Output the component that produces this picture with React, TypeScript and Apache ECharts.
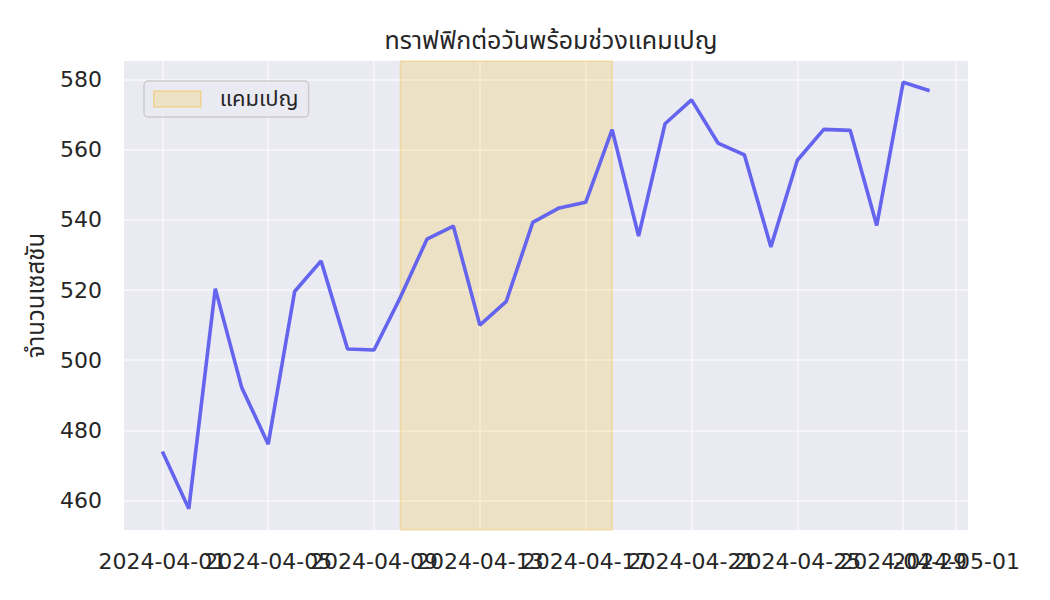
import React, { useEffect, useRef } from "react";
import * as echarts from "echarts";

const dates = [
  "2024-04-01", "2024-04-02", "2024-04-03", "2024-04-04", "2024-04-05",
  "2024-04-06", "2024-04-07", "2024-04-08", "2024-04-09", "2024-04-10",
  "2024-04-11", "2024-04-12", "2024-04-13", "2024-04-14", "2024-04-15",
  "2024-04-16", "2024-04-17", "2024-04-18", "2024-04-19", "2024-04-20",
  "2024-04-21", "2024-04-22", "2024-04-23", "2024-04-24", "2024-04-25",
  "2024-04-26", "2024-04-27", "2024-04-28", "2024-04-29", "2024-04-30",
];
const sessions = [
  474.0, 457.7, 520.4, 492.2, 476.1, 519.6, 528.3, 503.2, 502.9, 518.0,
  534.5, 538.2, 510.0, 516.8, 539.3, 543.4, 545.0, 565.7, 535.4, 567.4,
  574.2, 561.9, 558.5, 532.3, 557.0, 565.8, 565.5, 538.4, 579.2, 576.8,
];
const xTickLabels = [
  "2024-04-01", "2024-04-05", "2024-04-09", "2024-04-13", "2024-04-17",
  "2024-04-21", "2024-04-25", "2024-04-29", "2024-05-01",
];
const yTickValues = [460, 480, 500, 520, 540, 560, 580];
const campaignRange = ["2024-04-10", "2024-04-18"];

const TITLE = "ทราฟฟิกต่อวันพร้อมช่วงแคมเปญ";
const Y_NAME = "จำนวนเซสชัน";
const CAMPAIGN_NAME = "แคมเปญ";

const toTs = (s: string) => {
  const [y, m, d] = s.split("-").map(Number);
  return Date.UTC(y, m - 1, d);
};
const pad2 = (n: number) => (n < 10 ? "0" + n : "" + n);
const fmt = (v: number) => {
  const d = new Date(v);
  return `${d.getUTCFullYear()}-${pad2(d.getUTCMonth() + 1)}-${pad2(d.getUTCDate())}`;
};

const FONT = "'DejaVu Sans', 'Noto Sans Thai', 'Noto Sans', sans-serif";
const THAI_FONT = "'Noto Sans Thai', 'Noto Sans Thai UI', 'Noto Sans', 'DejaVu Sans', sans-serif";
const TEXT = "#262626";
const CAMPAIGN_FILL = "rgba(249,189,22,0.2)";
const CAMPAIGN_EDGE = "rgba(240,185,40,0.3)";

export default function App() {
  const ref = useRef<HTMLDivElement>(null);

  useEffect(() => {
    document.body.style.margin = "0";
    if (!ref.current) return;
    const chart = echarts.init(ref.current, undefined, { renderer: "svg" });

    const ts = dates.map(toTs);
    const x0 = ts[0];
    const x1 = ts[ts.length - 1];
    const xPad = (x1 - x0) * 0.05;
    const yMinD = Math.min(...sessions);
    const yMaxD = Math.max(...sessions);
    const yPad = (yMaxD - yMinD) * 0.05;
    const xTicks = xTickLabels.map(toTs);
    // two interleaved label sets so that overlapping labels are all kept
    const xTicksA = xTicks.filter((_, i) => i % 2 === 0);
    const xTicksB = xTicks.filter((_, i) => i % 2 === 1);

    const labelStyle = {
      interval: 0,
      formatter: (v: number) => fmt(v),
      fontFamily: FONT,
      fontSize: 22,
      color: TEXT,
      margin: 20,
      hideOverlap: false,
    };

    chart.setOption({
      animation: false,
      backgroundColor: "#ffffff",
      title: {
        text: TITLE,
        left: 546,
        top: 23,
        textAlign: "center",
        textStyle: {
          fontFamily: THAI_FONT,
          fontSize: 25,
          fontWeight: "normal",
          color: TEXT,
        },
      },
      legend: {
        left: 144,
        top: 81,
        data: [
          {
            name: CAMPAIGN_NAME,
            icon: "rect",
            itemStyle: { color: CAMPAIGN_FILL, borderColor: "rgba(240,190,60,0.45)", borderWidth: 1.5 },
          },
        ],
        itemWidth: 47,
        itemHeight: 16,
        padding: [7, 10, 7, 9],
        backgroundColor: "rgba(234,234,242,0.8)",
        borderColor: "#cccccc",
        borderWidth: 1.5,
        borderRadius: 4,
        textStyle: {
          fontFamily: THAI_FONT,
          fontSize: 22,
          color: TEXT,
          padding: [0, 0, 0, 14],
        },
      },
      grid: {
        left: 124,
        right: 82,
        top: 61,
        bottom: 70,
        show: true,
        backgroundColor: "#EAEAF2",
        borderWidth: 0,
      },
      xAxis: [
        {
          type: "value",
          position: "bottom",
          offset: 0,
          min: x0 - xPad,
          max: x1 + xPad,
          axisLine: { show: false },
          axisTick: { show: false, customValues: xTicks },
          axisLabel: { ...labelStyle, customValues: xTicksA },
          splitLine: {
            show: true,
            lineStyle: { color: "rgba(255,255,255,0.7)", width: 1.5 },
          },
        },
        {
          type: "value",
          position: "bottom",
          offset: 0,
          min: x0 - xPad,
          max: x1 + xPad,
          axisLine: { show: false },
          axisTick: { show: false, customValues: xTicksB },
          axisLabel: { ...labelStyle, customValues: xTicksB },
          splitLine: { show: false },
        },
      ],
      yAxis: {
        type: "value",
        min: yMinD - yPad,
        max: yMaxD + yPad,
        name: Y_NAME,
        nameLocation: "middle",
        nameRotate: 90,
        nameGap: 73,
        nameTextStyle: {
          fontFamily: THAI_FONT,
          fontSize: 24,
          color: TEXT,
        },
        axisLine: { show: false },
        axisTick: { show: false, customValues: yTickValues },
        axisLabel: {
          customValues: yTickValues,
          fontFamily: FONT,
          fontSize: 22,
          color: TEXT,
          margin: 22,
        },
        splitLine: {
          show: true,
          lineStyle: { color: "rgba(255,255,255,0.7)", width: 1.5 },
        },
      },
      series: [
        {
          name: CAMPAIGN_NAME,
          type: "bar",
          xAxisIndex: 0,
          data: [],
          itemStyle: { color: CAMPAIGN_FILL },
        },
        {
          name: "sessions",
          type: "line",
          xAxisIndex: 0,
          data: ts.map((t, i) => [t, sessions[i]]),
          showSymbol: false,
          symbol: "none",
          lineStyle: { color: "#6464EE", width: 3.6 },
          z: 3,
          markArea: {
            silent: true,
            itemStyle: {
              color: CAMPAIGN_FILL,
              borderColor: CAMPAIGN_EDGE,
              borderWidth: 1.5,
            },
            data: [[{ xAxis: toTs(campaignRange[0]) }, { xAxis: toTs(campaignRange[1]) }]],
          },
        },
      ],
    });

    return () => chart.dispose();
  }, []);

  return <div ref={ref} style={{ width: 1050, height: 600 }} />;
}
